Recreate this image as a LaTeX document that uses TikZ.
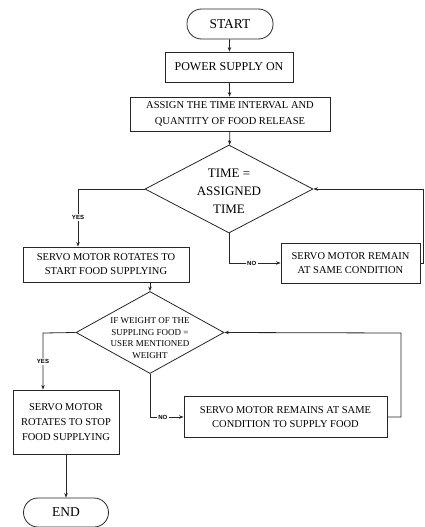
\documentclass[tikz,border=0pt]{standalone}
\usepackage{fontspec}
\setmainfont{Liberation Serif}
\newfontfamily\labelfont{Liberation Sans}
\usetikzlibrary{shapes.geometric,arrows.meta}
\def\procnode{\node[proc]}
\def\decnode{\node[decision]}

\begin{document}
\begin{tikzpicture}[x=1pt,y=-1pt,line width=0.8pt,draw=black!85,
  proc/.style={draw,rectangle,inner sep=0pt,align=center,font=\fontsize{10.5}{14}\selectfont},
  term/.style={draw,rectangle,rounded corners=14.5pt,inner sep=0pt,font=\fontsize{13.5}{16}\selectfont},
  decision/.style={draw,diamond,inner sep=0pt},
  flow/.style={-{Stealth[length=4.5pt,width=3.5pt]}},
  branch/.style={fill=white,inner sep=1.5pt,font=\labelfont\bfseries\fontsize{6}{7}\selectfont}]
\useasboundingbox (0,0) rectangle (424,527);
\node[term,minimum width=86pt,minimum height=30pt] (start) at (230,24) {START};
\procnode[minimum width=128pt,minimum height=30pt,font=\fontsize{12}{14}\selectfont] (power) at (229,67) {POWER SUPPLY ON};
\procnode[minimum width=200pt,minimum height=34pt,font=\fontsize{10.5}{16}\selectfont] (assign) at (230,114) {ASSIGN THE TIME INTERVAL AND\\QUANTITY OF FOOD RELEASE};
\decnode[minimum width=168pt,minimum height=88pt] (d1) at (229,189) {};
\node[align=center,font=\fontsize{13}{18}\selectfont] (d1txt) at (229,191) {TIME =\\ASSIGNED\\TIME};
\procnode[minimum width=166pt,minimum height=35pt] (servo1) at (106,264.5) {SERVO MOTOR ROTATES TO\\START FOOD SUPPLYING};
\procnode[minimum width=139pt,minimum height=40pt] (servo2) at (350.5,263) {SERVO MOTOR REMAIN\\AT SAME CONDITION};
\decnode[minimum width=148pt,minimum height=82pt] (d2) at (150,332.5) {};
\node[align=center,font=\fontsize{9}{11.7}\selectfont] (d2txt) at (150,338) {IF WEIGHT OF THE\\SUPPLING FOOD =\\USER MENTIONED\\WEIGHT};
\procnode[minimum width=106pt,minimum height=64pt,font=\fontsize{10.5}{15}\selectfont] (stop) at (66,422) {SERVO MOTOR\\ROTATES TO STOP\\FOOD SUPPLYING};
\procnode[minimum width=203pt,minimum height=41pt] (servo3) at (285.5,417) {SERVO MOTOR REMAINS AT SAME\\CONDITION TO SUPPLY FOOD};
\node[term,minimum width=85pt,minimum height=29pt] (end) at (66,512.5) {END};
\coordinate (yes1) at (78,189);
\coordinate (loop1) at (423,189);
\coordinate (yes2) at (43,333);
\coordinate (loop2) at (401,333);
\draw[flow] (start) -- (power);
\draw[flow] (power) -- (assign);
\draw[flow] (assign) -- (d1);
\draw[flow] (d1.west) -- (yes1) -- node[branch] {YES} (yes1 |- servo1.north);
\draw[flow] (d1.south) |- node[branch,pos=0.72] {NO} (servo2.west);
\draw[flow] (servo2.east) -| (loop1) -- (d1.east);
\draw[flow] (servo1.south -| d2.north) -- (d2.north);
\draw[flow] (d2.west) -- (yes2) -- node[branch] {YES} (yes2 |- stop.north);
\draw[flow] (d2.south) |- node[branch,pos=0.69] {NO} (servo3.west);
\draw[flow] (servo3.east) -| (loop2) -- (d2.east);
\draw[flow] (stop) -- (end);
\end{tikzpicture}
\end{document}
